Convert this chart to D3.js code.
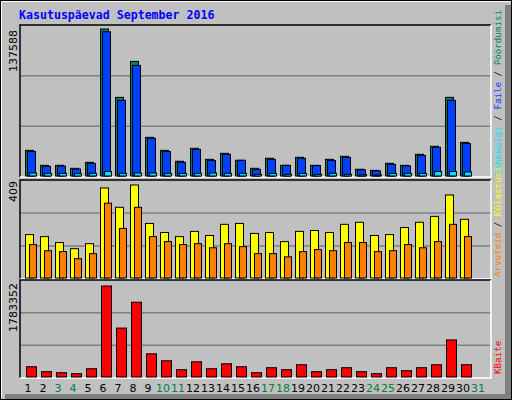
<!DOCTYPE html>
<html><head><meta charset="utf-8">
<script src="https://cdn.jsdelivr.net/npm/d3@7/dist/d3.min.js"></script>
<style>body{margin:0;background:#fff}</style></head>
<body><svg id="c" width="512" height="400"></svg>
<script>
const days = d3.range(1, 32);
const weekend = [3,4,10,11,17,18,24,25,31];
const hits  = [24000,10000,10000,7200,12800,137588,73600,107300,36200,24000,13800,25900,15600,21200,14700,7200,16600,10000,17500,10000,15600,18400,6300,5300,11900,10000,20300,27800,73600,31500];
const files = [23000,9000,9300,6500,11800,135000,70800,103500,35300,22900,12800,24900,14600,20300,14700,6200,15600,10000,16600,9800,14600,17500,5800,4800,10900,9500,19300,26900,70800,30500];
const pages = [2800,2500,2500,2200,2500,4200,2500,2800,2800,2500,2500,2500,2800,2500,2500,1500,2500,1500,2500,1500,2500,1500,1200,1000,2500,2500,2500,4200,4200,3800];
const visits = [191,182,156,129,151,396,311,409,240,200,182,205,187,236,240,196,200,160,205,209,200,236,245,187,191,222,245,271,365,258];
const sites  = [147,120,116,85,107,329,218,311,182,160,147,151,133,151,138,107,107,93,116,125,120,156,156,116,120,147,133,160,236,182];
const kbytes = [201000,104000,84000,65000,162000,1783352,959000,1465000,454000,318000,143000,298000,162000,259000,201000,84000,182000,143000,240000,104000,143000,182000,104000,65000,182000,123000,182000,240000,726000,240000];
const maxLabels = ["137588","409","1783352"];

const svg = d3.select("#c");
svg.append("rect").attr("x",0.5).attr("y",0.5).attr("width",511).attr("height",399).attr("fill","#C0C0C0").attr("stroke","#000");
svg.append("path").attr("d","M1.5,398V1.5H510").attr("stroke","#fff").attr("fill","none");
svg.append("rect").attr("x",505).attr("y",5).attr("width",6).attr("height",394).attr("fill","#808080");
svg.append("rect").attr("x",5).attr("y",394).attr("width",506).attr("height",5).attr("fill","#808080");

svg.append("text").attr("x",19).attr("y",19).text("Kasutuspäevad September 2016")
  .attr("font-family","DejaVu Sans Mono").attr("font-weight","bold").attr("font-size","11.6px").attr("fill","#0000FF");

const x = d3.scaleBand().domain(days).range([20.5, 485.5]);
const L = 20, R = 491;
const panels = [
  {top:25, bot:177},
  {top:180, bot:279},
  {top:280, bot:378}
];
panels.forEach(p=>{
  svg.append("rect").attr("x",L).attr("y",p.top).attr("width",R-L).attr("height",p.bot-p.top).attr("fill","#C0C0C0");
  const h = (p.bot-p.top)/3;
  [1,2].forEach(k=>svg.append("line").attr("x1",L).attr("x2",R).attr("y1",p.top+h*k).attr("y2",p.top+h*k).attr("stroke","#808080").attr("stroke-width",1.5));
  svg.append("path").attr("d",`M${L},${p.bot}V${p.top}H${R}`).attr("stroke","#000").attr("fill","none").attr("stroke-width",1.5);
  svg.append("path").attr("d",`M${L},${p.bot}H${R}V${p.top}`).attr("stroke","#fff").attr("fill","none").attr("stroke-width",1.5);
});

function bars(data, max, p, topPad, off, w, color){
  const y = d3.scaleLinear().domain([0,max]).range([p.bot-1, p.top+topPad]);
  svg.append("g").selectAll("rect").data(data).join("rect")
    .attr("x",(d,i)=>x(i+1)+off).attr("width",w)
    .attr("y",d=>y(d)).attr("height",d=>Math.max(1,y(0)-y(d)))
    .attr("fill",color).attr("stroke","#000").attr("stroke-width",1);
}
bars(hits,137588,panels[0],4,5,8,"#008060");
bars(files,137588,panels[0],4,7,8,"#0040FF");
bars(pages,137588,panels[0],4,9,7,"#00E0FF");
bars(visits,409,panels[1],5,5,8,"#FFFF00");
bars(sites,409,panels[1],5,9,7,"#FF8000");
bars(kbytes,1783352,panels[2],6,6,10,"#FF0000");

// max labels
[[30,0],[181,1],[283,2]].forEach(([yy,i])=>{
  svg.append("text").attr("transform",`translate(17,${yy}) rotate(-90)`).attr("text-anchor","end")
   .attr("font-family","DejaVu Sans").attr("font-size","11px").attr("fill","#000").text(maxLabels[i]);
});

// legends
function legend(yy, parts){
  const t = svg.append("text").attr("transform",`translate(501,${yy}) rotate(-90)`)
   .attr("font-family","DejaVu Sans Mono").attr("font-size","9.2px");
  parts.forEach(([s,c])=>t.append("tspan").attr("fill",c).text(s));
}
legend(176,[["Lehekülgi","#00E0FF"],[" / ","#000"],["Faile","#0040FF"],[" / ","#000"],["Pöördumisi","#008060"]]);
legend(277,[["Arvuteid","#FF8000"],[" / ","#000"],["Külastusi","#FFFF00"]]);
legend(374,[["KBaite","#FF0000"]]);

// x labels
svg.append("g").selectAll("text").data(days).join("text")
  .attr("x",d=>x(d)+x.bandwidth()/2).attr("y",392).attr("text-anchor","middle")
  .attr("font-family","DejaVu Sans").attr("font-size","11px")
  .attr("fill",d=>weekend.includes(d)?"#008040":"#000").text(d=>d);
</script></body></html>
